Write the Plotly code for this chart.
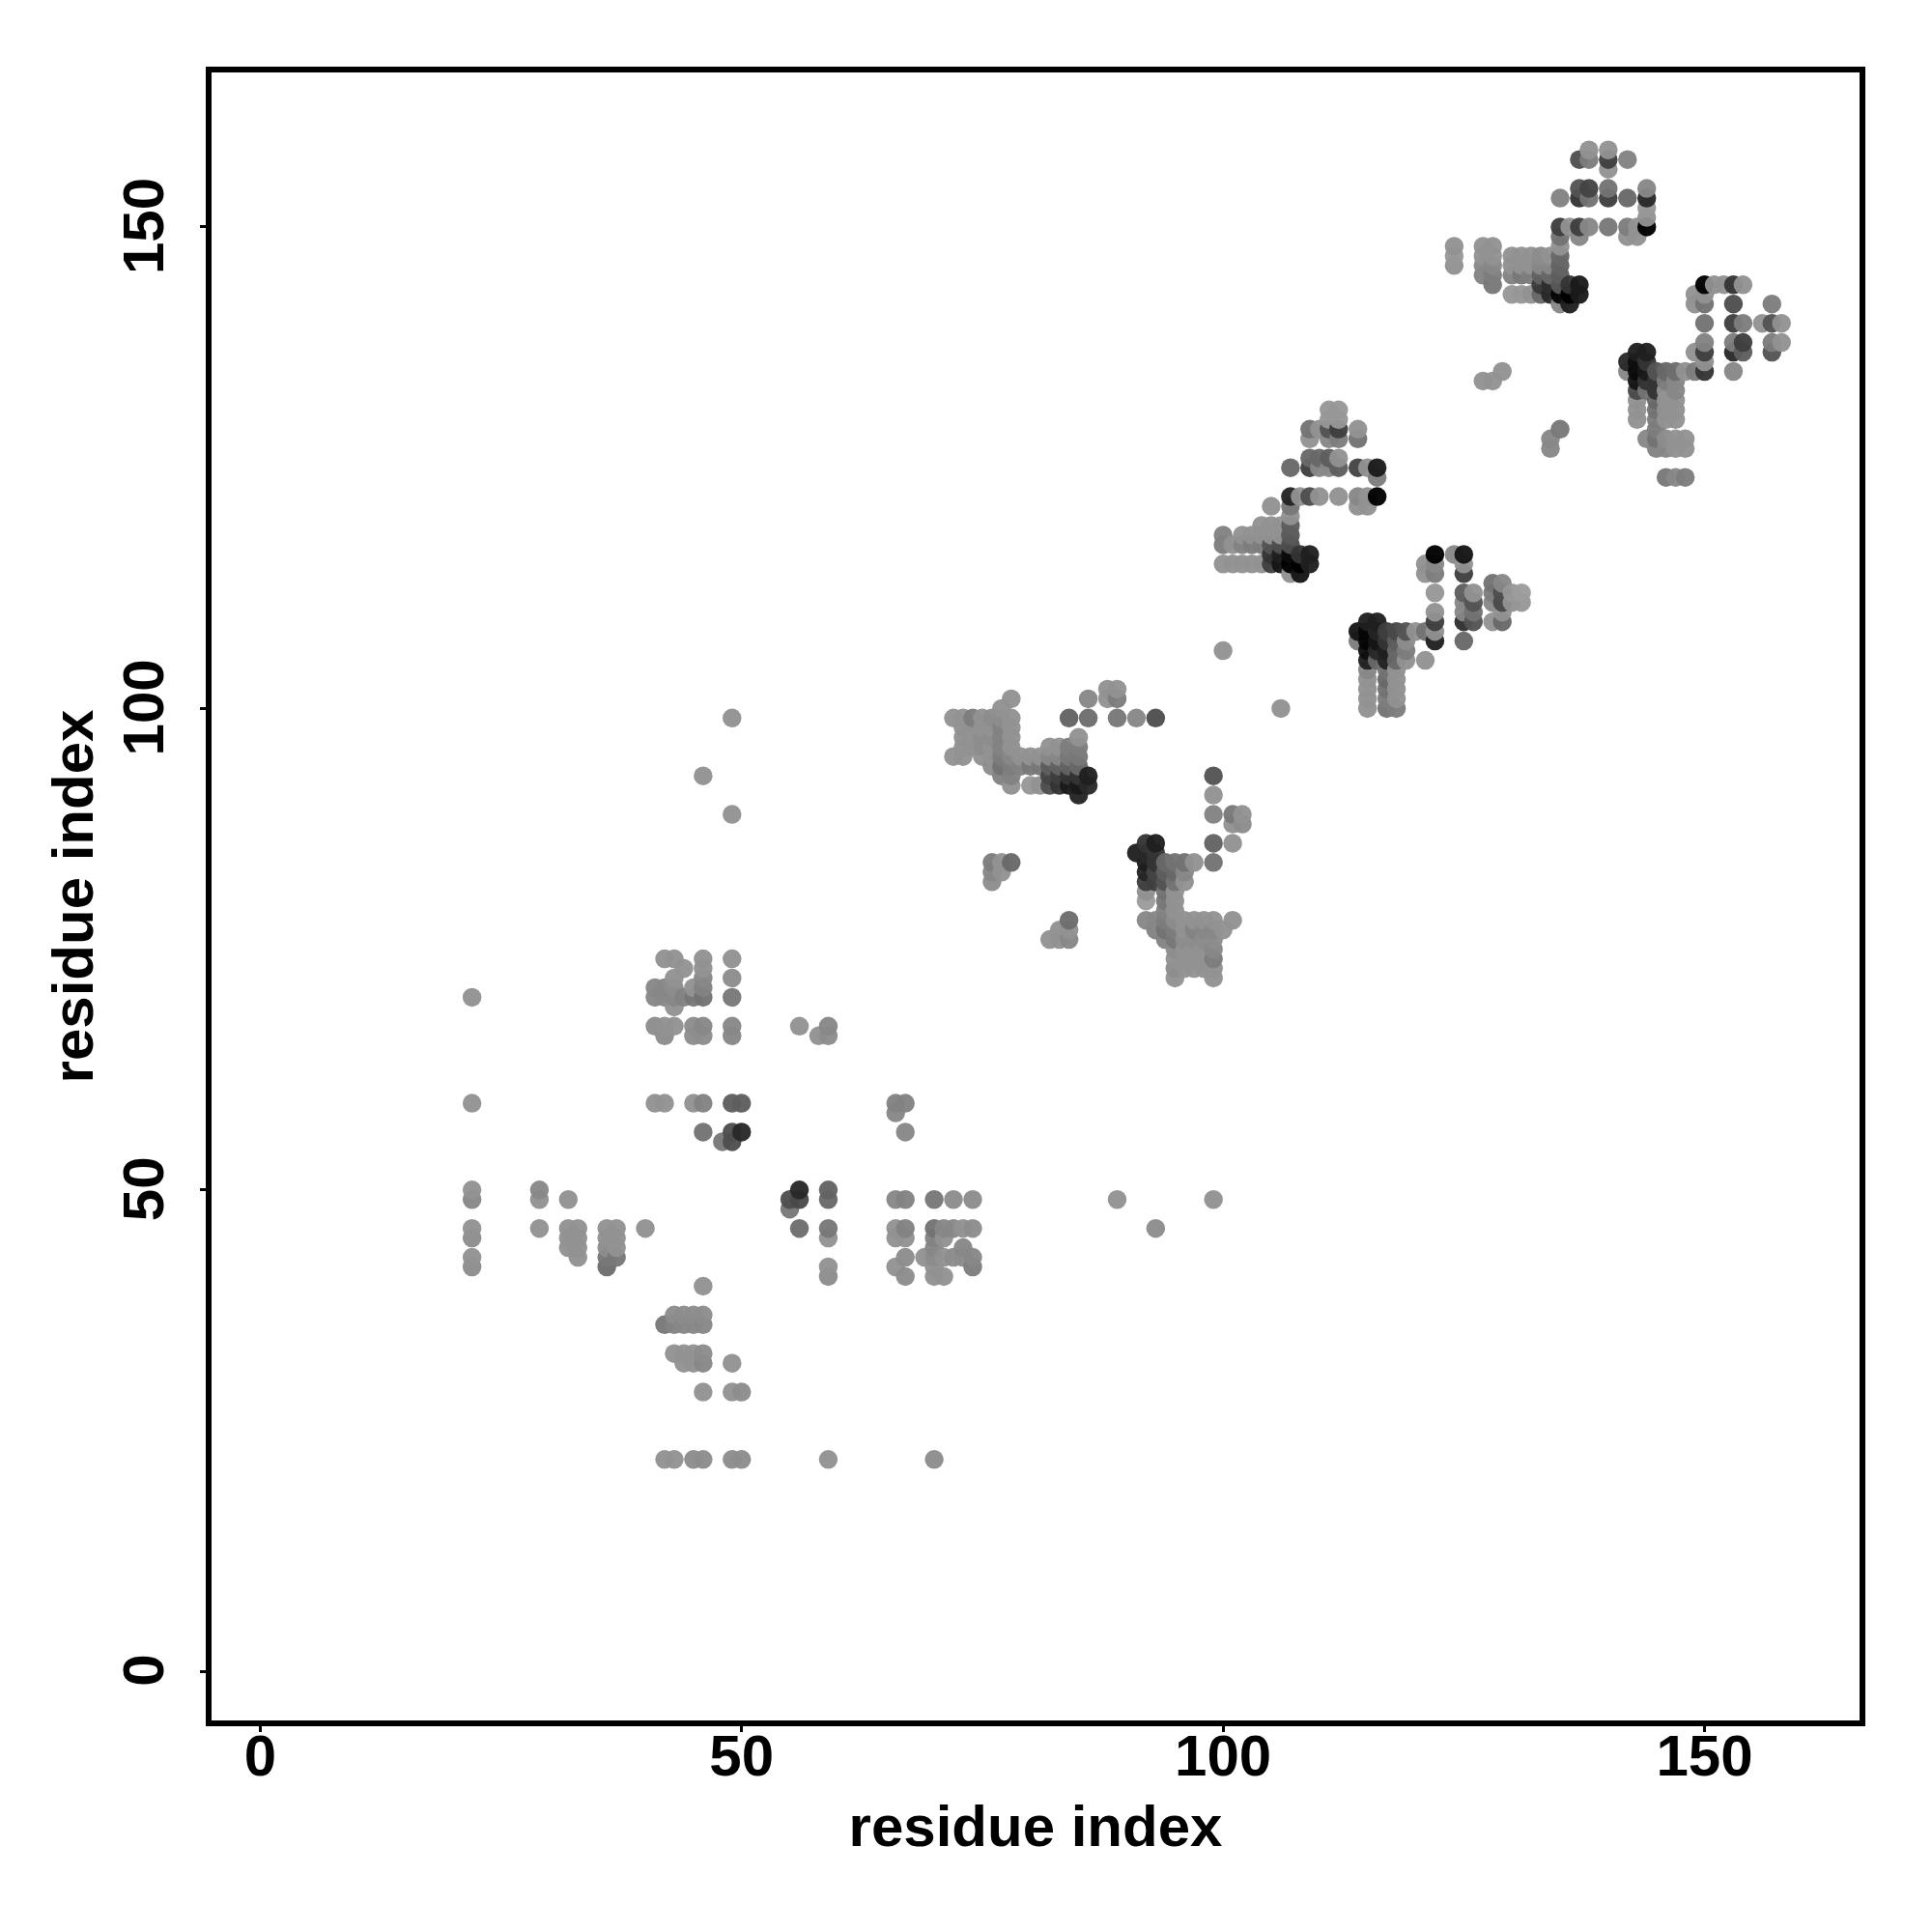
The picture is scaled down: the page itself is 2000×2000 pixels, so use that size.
import plotly.graph_objects as go

# residue contacts, one row per y residue: x residues and grey level (0-255)
row_y = [158,157,156,154,153,152,151,150,149,148,147,146,145,144,143,142,140,138,137,136,135,134,133,132,131,130,129,128,127,126,125,124,122,121,120,119,118,117,116,115,114,113,112,111,110,109,108,107,106,105,104,103,102,101,100,99,98,97,96,95,94,93,92,91,89,88,86,85,84,83,82,81,80,79,78,77,76,75,74,73,72,71,70,69,67,66,59,58,56,55,50,49,48,46,45,44,43,42,41,40,37,36,33,32,29,22]
row_x = [
[138,140],[137,138,140,142],[140],[137,138,140,144],[135,137,138,140,142,144],[144],[144],
[135,136,137,138,140,142,143,144],[135,137,142,143],[124,127,128,135],
[124,127,128,130,131,132,133,134,135],[124,127,128,130,131,132,133,134,135],
[127,128,130,131,132,133,134,135],[128,133,134,135,136,137,150,151,152,153,154],
[130,131,132,133,134,135,136,137,149,150],[135,136,149,150,153,157],
[150,153,154,156,157,158],[150,153,154,157,158],[143,144,149,150,153,154,157],[142,143,144,150],
[129,142,143,144,145,146,147,148,149,150,153],[127,128,143,144,145,146,147],[143,144,145,146,147],
[143,145,146,147],[111,112,143,145,146,147],[111,112,143,145,146,147],
[109,110,111,112,114,135,145],[109,111,112,114,134,144,145,146,147,148],[134,145,146,147,148],
[109,110,111,112],[107,109,110,111,112,114,115,116],[116,146,147,148],
[107,108,109,110,112,114,115,116],[105,107,114,115],[107],[104,105,106,107],
[100,102,103,104,105,106,107],[100,101,102,103,104,105,106,107],[105,106,107,108,109,122,124,125],
[100,101,102,103,104,105,106,107,108,109,121,122,125],[107,108,121,122,125],[128,129],
[122,125,126,128,129,130,131],[125,126,128,129,130,131],[122,125,126,129],
[115,116,122,125,126,128,129],[114,115,116,117,118,119,120,121,122],
[114,115,116,117,118,119,122,125],[100,115,116,117,118,119],[115,116,117,118,119,121],
[115,117,118],[115,117,118],[88,89,115,117,118],[78,86,88,89,115,117,118],[77,106,115,117,118],
[49,72,73,74,75,76,77,78,84,86,89,91,93],[73,74,75,76,77,78],[73,74,75,76,77,78,85],
[73,74,75,76,77,78,82,83,84,85],[72,73,75,76,77,78,79,80,81,82,83,84,85],
[76,77,78,79,80,81,82,83,84,85],[46,77,78,82,83,84,85,86,99],[78,80,81,82,83,84,85,86],[85,99],
[49,99,101,102],[101,102],[92,93,99,101],[91,92,93],[76,77,78,92,93,94,95,96,97,99],
[76,77,92,93,94,95,96],[76,92,93,94,95,96],[92,94,95],[92,94,95],[94,95],
[84,92,93,94,95,96,97,98,99,101],[83,84,93,94,95,96,97,98,99,100],[82,83,84,94,95,96,97,98,99],
[95,96,97,98,99],[42,43,46,49,95,96,97,98,99],[44,46,95,96,97,98,99],[43,46,49,95,99],
[41,42,43,45,46],[22,41,42,43,44,45,46,49],[43],[41,42,43,45,46,49,56,59],[42,45,46,49,58,59],
[22,41,42,45,46,49,50,66,67],[66],[46,49,50,67],[48,49],[22,29,56,59],
[22,29,32,55,56,59,66,67,70,72,74,89,99],[55],
[22,29,32,33,36,37,40,56,59,66,67,70,71,72,73,74,93],[22,32,33,36,37,59,66,67,70,71],
[32,33,36,37,70,73],[22,33,36,37,67,69,70,71,72,73,74],[22,36,59,66,70,74],[59,67,70,71],[46],
[43,44,45,46],[42,43,44,45,46],[43,44,45,46],[44,45,46,49],[46,49,50],[42,43,45,46,49,50,59,70],
]
row_shade = [
[150,150],[85,130,70,135],[150],[90,75,120,140],[135,60,120,70,110,50],[155],[150],
[70,150,70,140,125,130,150,10],[120,140,150,150],[150,150,150,150],
[155,150,150,150,150,150,145,150,110],[150,140,140,150,150,150,140,140,105],
[135,130,135,125,130,105,110,100],[125,65,55,95,60,35,10,150,150,60,150],
[155,155,150,110,50,15,10,35,150,150],[140,40,150,120,85,130],
[120,70,130,150,90,150],[135,130,70,130,150],[40,40,150,70,50,100,90],[50,25,60,150],
[150,140,20,35,90,110,115,150,130,60,140],[150,150,30,60,60,130,140],[80,120,60,150,140],
[150,110,150,150],[155,155,150,120,150,150],[155,155,150,130,150,150],
[120,150,90,70,150,125,130],[150,140,130,120,140,140,120,145,150,150],[140,135,140,150,150],
[110,110,100,150],[110,70,140,140,100,75,150,35],[130,125,140,130],
[45,150,85,150,150,140,150,10],[150,125,150,150],[150],[150,150,150,100],
[135,150,150,150,150,150,95],[130,150,135,130,130,90,85,85],[60,40,20,60,40,10,140,30],
[150,150,150,150,150,70,30,10,10,40,150,140,150],[150,30,150,130,70],[120,140],
[155,100,150,130,85,155,160],[140,90,140,80,150,155],[150,140,120,150],
[40,40,70,55,90,150,110],[30,15,45,70,80,90,150,120,150],
[130,15,30,60,100,145,40,110],[150,25,50,40,110,130],[40,110,45,110,150,150],
[140,120,150],[150,110,150],[150,150,150,120,150],[150,140,150,130,150,130,150],[150,150,150,120,130],
[150,150,150,130,150,145,145,150,105,115,125,140,85],[150,150,150,150,135,150],[150,150,145,145,135,150,150],
[150,150,145,150,135,150,150,150,130,130],[150,150,150,150,130,140,150,150,150,140,140,125,125],
[145,120,130,135,125,125,100,105,105,110],[150,135,135,75,70,60,60,40,90],[150,155,150,85,60,35,35,50],[45,150],
[150,135,125,150],[150,145],[60,40,105,150],[40,50,60],[130,150,110,40,60,110,120,120,150,120],
[140,150,45,75,100,110,140],[145,70,70,90,120,150],[150,120,150],[160,125,150],[135,150],
[115,140,140,130,145,150,150,150,150,150],[150,150,135,120,130,150,135,140,140,150],[150,150,140,135,125,145,145,145,145],
[145,150,150,150,140],[150,150,150,150,150,150,150,150,130],[150,150,145,150,150,150,150],[150,140,145,150,150],
[140,140,145,150,135],[150,140,140,140,135,125,120,125],[150],[145,150,150,145,140,140,150,140],[145,145,145,140,150,145],
[150,150,150,150,135,100,100,135,135],[140],[120,85,50,140],[125,85],[150,140,50,105],
[140,150,150,85,80,110,140,135,125,145,145,150,150],[125],
[150,150,150,150,150,150,150,115,125,150,135,120,140,140,150,145,145],[145,150,150,150,150,150,150,150,135,150],
[150,150,145,150,140,140],[150,150,125,125,145,150,145,150,145,145,140],[145,115,150,150,150,130],[145,145,150,150],[150],
[145,145,145,145],[125,135,140,140,140],[150,150,150,145],[150,150,140,150],[150,150,145],[150,150,145,145,145,145,150,145],
]
tick_values = [0, 50, 100, 150]
axis_label = "residue index"

points = sorted(
    (x, y, s)
    for y, xs, ss in zip(row_y, row_x, row_shade)
    for x, s in zip(xs, ss)
)
px = [p[0] for p in points]
py = [p[1] for p in points]
alpha = 0.96
colors = []
for p in points:
    g = max(0, round(255 - (255 - p[2]) / alpha))
    colors.append(f"rgb({g},{g},{g})")

fig = go.Figure(go.Scatter(
    x=px, y=py, mode="markers",
    marker=dict(size=19.5, color=colors, opacity=alpha, line=dict(width=0)),
    hoverinfo="skip",
))
font = dict(family="Liberation Sans", size=60, color="black", weight=700)
common = dict(
    tickvals=tick_values, ticktext=[str(v) for v in tick_values],
    showgrid=False, zeroline=False, showline=True, mirror=True,
    linecolor="black", linewidth=5.5, ticks="outside", ticklen=6, tickwidth=2.5,
    tickcolor="black", tickfont=font,
)
W, H = 2000, 2000
L, R, T, B = 219, 1925.5, 74.8, 1781.2
fig.update_layout(
    width=W, height=H, autosize=False, showlegend=False,
    paper_bgcolor="white", plot_bgcolor="white",
    margin=dict(l=L, r=W - R, t=T, b=H - B, pad=0, autoexpand=False),
    xaxis=dict(range=[-5.05, 166.1], tickangle=0, ticklabelstandoff=-27,
               title=dict(text=axis_label, font=font, standoff=21), **common),
    yaxis=dict(range=[-5.1, 166.05], tickangle=-90, ticklabelstandoff=14, ticklabelshift=8,
               title=dict(text=axis_label, font=font, standoff=1), **common),
)
fig.write_html("out.html", post_script="document.body.style.margin='0';",
               config={"displayModeBar": False})
